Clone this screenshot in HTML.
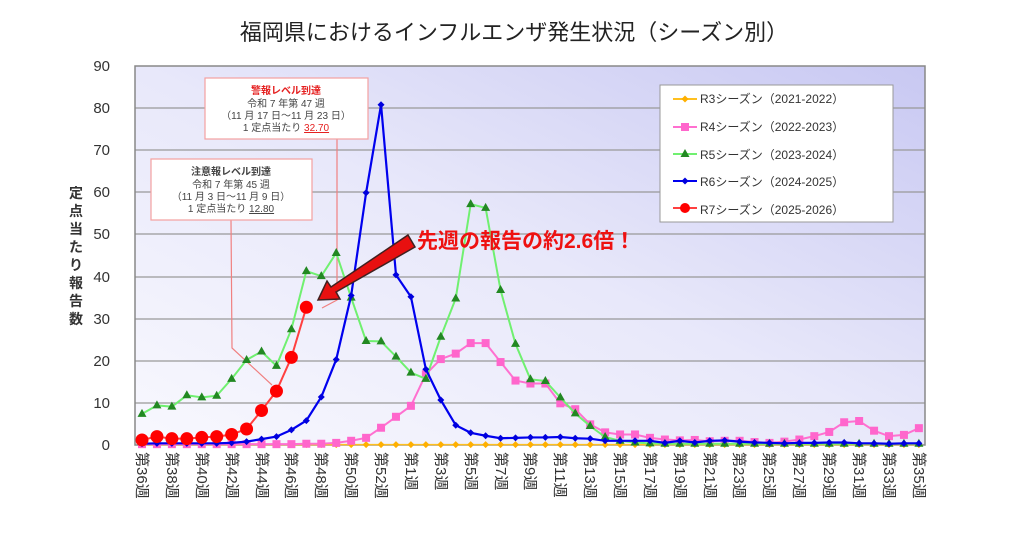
<!DOCTYPE html>
<html><head><meta charset="utf-8"><style>
html,body{margin:0;padding:0;background:#fff;}
svg{display:block;font-family:"Liberation Sans","Noto Sans CJK JP",sans-serif;}
</style></head><body>
<svg id="s" width="1024" height="542" viewBox="0 0 1024 542" xmlns="http://www.w3.org/2000/svg">
<defs>
<linearGradient id="bg" x1="0" y1="1" x2="1" y2="0">
<stop offset="0" stop-color="#f8f8fe"/><stop offset="0.5" stop-color="#e8e8fa"/><stop offset="1" stop-color="#c8c8f2"/>
</linearGradient>
</defs>
<text x="514" y="40" text-anchor="middle" font-size="22" fill="#222">福岡県におけるインフルエンザ発生状況（シーズン別）</text>
<rect x="135" y="66" width="790" height="379" fill="url(#bg)"/>
<g stroke="#999" stroke-width="1.2">
<line x1="135" y1="403" x2="925" y2="403"/><line x1="135" y1="361" x2="925" y2="361"/>
<line x1="135" y1="319" x2="925" y2="319"/><line x1="135" y1="277" x2="925" y2="277"/>
<line x1="135" y1="234" x2="925" y2="234"/><line x1="135" y1="192" x2="925" y2="192"/>
<line x1="135" y1="150" x2="925" y2="150"/><line x1="135" y1="108" x2="925" y2="108"/>
</g>
<rect x="135" y="66" width="790" height="379" fill="none" stroke="#888" stroke-width="1.5"/>
<g font-size="15" fill="#333" text-anchor="end">
<text x="110" y="450">0</text><text x="110" y="408">10</text><text x="110" y="366">20</text>
<text x="110" y="324">30</text><text x="110" y="282">40</text><text x="110" y="239">50</text>
<text x="110" y="197">60</text><text x="110" y="155">70</text><text x="110" y="113">80</text>
<text x="110" y="71">90</text>
</g>
<g font-size="14" font-weight="bold" fill="#333" text-anchor="middle">
<text x="76" y="198">定</text><text x="76" y="216">点</text><text x="76" y="234">当</text>
<text x="76" y="252">た</text><text x="76" y="270">り</text><text x="76" y="288">報</text>
<text x="76" y="306">告</text><text x="76" y="324">数</text>
</g>
<g font-size="15" fill="#333">
<text transform="translate(137,452) rotate(90)">第36週</text>
<text transform="translate(167,452) rotate(90)">第38週</text>
<text transform="translate(197,452) rotate(90)">第40週</text>
<text transform="translate(227,452) rotate(90)">第42週</text>
<text transform="translate(257,452) rotate(90)">第44週</text>
<text transform="translate(286,452) rotate(90)">第46週</text>
<text transform="translate(316,452) rotate(90)">第48週</text>
<text transform="translate(346,452) rotate(90)">第50週</text>
<text transform="translate(376,452) rotate(90)">第52週</text>
<text transform="translate(406,452) rotate(90)">第1週</text>
<text transform="translate(436,452) rotate(90)">第3週</text>
<text transform="translate(466,452) rotate(90)">第5週</text>
<text transform="translate(496,452) rotate(90)">第7週</text>
<text transform="translate(525,452) rotate(90)">第9週</text>
<text transform="translate(555,452) rotate(90)">第11週</text>
<text transform="translate(585,452) rotate(90)">第13週</text>
<text transform="translate(615,452) rotate(90)">第15週</text>
<text transform="translate(645,452) rotate(90)">第17週</text>
<text transform="translate(675,452) rotate(90)">第19週</text>
<text transform="translate(705,452) rotate(90)">第21週</text>
<text transform="translate(734,452) rotate(90)">第23週</text>
<text transform="translate(764,452) rotate(90)">第25週</text>
<text transform="translate(794,452) rotate(90)">第27週</text>
<text transform="translate(824,452) rotate(90)">第29週</text>
<text transform="translate(854,452) rotate(90)">第31週</text>
<text transform="translate(884,452) rotate(90)">第33週</text>
<text transform="translate(914,452) rotate(90)">第35週</text>
</g>
<g stroke="#f08080" stroke-width="1.2" fill="none">
<polyline points="337,139 337,300 322,308"/>
<polyline points="231,220 232,348 272,385"/>
</g>
<g id="series"></g>
<rect x="205" y="78" width="163" height="61" fill="#fff" stroke="#f4a0a0" stroke-width="1.2"/>
<g font-size="10" fill="#444" text-anchor="middle">
<text x="286" y="94" fill="#e52020" font-weight="bold">警報レベル到達</text>
<text x="286" y="107">令和 7 年第 47 週</text>
<text x="286" y="119">（11 月 17 日～11 月 23 日）</text>
<text x="286" y="131">1 定点当たり <tspan fill="#e52020" text-decoration="underline">32.70</tspan></text>
</g>
<rect x="151" y="159" width="161" height="61" fill="#fff" stroke="#f4a0a0" stroke-width="1.2"/>
<g font-size="10" fill="#444" text-anchor="middle">
<text x="231" y="175" font-weight="bold">注意報レベル到達</text>
<text x="231" y="188">令和 7 年第 45 週</text>
<text x="231" y="200">（11 月 3 日～11 月 9 日）</text>
<text x="231" y="212">1 定点当たり <tspan text-decoration="underline">12.80</tspan></text>
</g>
<polygon points="408,235 415,247 336,292 340,299 318,300 327,281 331,287" fill="#e81010" stroke="#402020" stroke-width="1.5"/>
<text x="417" y="248" font-size="21" font-weight="bold" fill="#ee1111">先週の報告の約2.6倍！</text>
<rect x="660" y="85" width="233" height="137" fill="#fff" stroke="#999" stroke-width="1"/>
<g font-size="12" fill="#333">
<text x="700" y="103">R3シーズン（2021-2022）</text>
<text x="700" y="131">R4シーズン（2022-2023）</text>
<text x="700" y="159">R5シーズン（2023-2024）</text>
<text x="700" y="186">R6シーズン（2024-2025）</text>
<text x="700" y="214">R7シーズン（2025-2026）</text>
</g>
<g id="leg"></g>
</svg>
<script>
var NS="http://www.w3.org/2000/svg";
function X(i){return 142+i*14.94;}
function Y(v){return 445-v*4.211;}
var yellow=[],i;for(i=0;i<53;i++)yellow.push(0.1);
var pink=[0.2,0.2,0.2,0.2,0.2,0.2,0.2,0.2,0.2,0.2,0.2,0.3,0.3,0.5,1,1.7,4.1,6.7,9.3,16.8,20.4,21.7,24.2,24.2,19.7,15.3,14.6,14.6,9.9,8.5,4.9,3,2.5,2.5,1.7,1.3,1.1,1.2,0.9,1,1,0.7,0.5,0.8,1.3,2.1,3.1,5.4,5.7,3.4,2.1,2.4,4.0];
var green=[7.4,9.4,9.1,11.8,11.3,11.7,15.7,20.2,22.2,18.8,27.5,41.3,40.1,45.6,35,24.7,24.6,21,17.2,15.7,25.7,34.8,57.2,56.3,36.8,24,15.6,15.2,11.3,7.5,4.5,1.9,1,0.6,0.4,0.3,0.3,0.3,0.3,0.3,0.3,0.3,0.3,0.3,0.3,0.3,0.3,0.3,0.3,0.3,0.3,0.3,0.3];
var blue=[0.3,0.4,0.4,0.4,0.4,0.4,0.5,0.8,1.4,2,3.6,5.8,11.4,20.3,35.5,59.9,80.8,40.4,35.2,18,10.7,4.7,2.9,2.2,1.6,1.7,1.8,1.8,1.9,1.6,1.5,1,1,1,1,0.5,1,0.6,1,1.1,0.8,0.6,0.5,0.4,0.5,0.5,0.6,0.6,0.4,0.4,0.3,0.4,0.4];
var red=[1.2,2,1.5,1.5,1.8,2,2.5,3.8,8.2,12.8,20.8,32.7];
var g=document.getElementById("series");
function el(t,a,p){var e=document.createElementNS(NS,t);for(var k in a)e.setAttribute(k,a[k]);(p||g).appendChild(e);return e;}
function mark(type,x,y,c,p){
 if(type=="d")el("polygon",{points:(x)+","+(y-3.5)+" "+(x+3.5)+","+y+" "+x+","+(y+3.5)+" "+(x-3.5)+","+y,fill:c},p);
 else if(type=="s")el("rect",{x:x-4,y:y-4,width:8,height:8,fill:c},p);
 else if(type=="t")el("polygon",{points:x+","+(y-5)+" "+(x+4.5)+","+(y+3)+" "+(x-4.5)+","+(y+3),fill:c},p);
 else el("circle",{cx:x,cy:y,r:6.5,fill:c},p);
}
function series(d,lc,mt,mc,w){
 var pts=d.map(function(v,i){return X(i)+","+Y(v);}).join(" ");
 el("polyline",{points:pts,fill:"none",stroke:lc,"stroke-width":w});
 d.forEach(function(v,i){mark(mt,X(i),Y(v),mc);});
}
series(yellow,"#ffc020","d","#ffb000",1.5);
series(pink,"#ff70d0","s","#ff66cc",2);
series(green,"#70f070","t","#228822",2);
series(blue,"#0000ee","d","#0000dd",2.2);
series(red,"#ff4040","c","#ff0000",2);
var L=document.getElementById("leg");
var cfg=[["#ffc020","d","#ffb000",99],["#ff70d0","s","#ff66cc",127],["#70f070","t","#228822",154],["#0000ee","d","#0000dd",181],["#ff4040","c","#ff0000",208]];
cfg.forEach(function(c){el("line",{x1:673,y1:c[3],x2:697,y2:c[3],stroke:c[0],"stroke-width":2},L);
 if(c[1]=="c")el("circle",{cx:685,cy:c[3],r:5,fill:c[2]},L);else mark(c[1],685,c[3],c[2],L);});
</script>
</body></html>
